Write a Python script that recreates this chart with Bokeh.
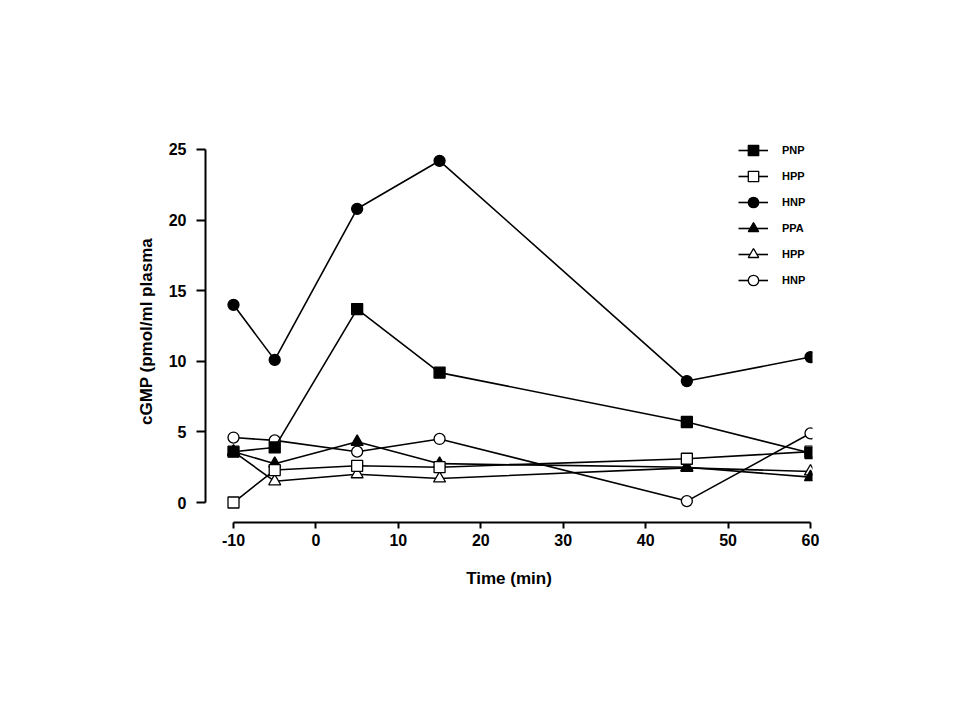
from bokeh.plotting import figure
from bokeh.models import Range1d, Legend, LegendItem, FixedTicker, PrintfTickFormatter
from bokeh.embed import file_html
from bokeh.resources import INLINE

# ---- data ----
times = [-10, -5, 5, 15, 45, 60]
pnp = [3.6, 3.9, 13.7, 9.2, 5.7, 3.5]          # filled square
hpp_sq = [0.0, 2.3, 2.6, 2.5, 3.1, 3.6]        # open square
hnp_fill = [14.0, 10.1, 20.8, 24.2, 8.6, 10.3] # filled circle
ppa = [3.6, 2.75, 4.3, 2.75, 2.5, 1.8]         # filled triangle
hpp_tri = [3.6, 1.5, 2.0, 1.7, 2.45, 2.2]      # open triangle
hnp_open = [4.6, 4.4, 3.6, 4.5, 0.1, 4.9]      # open circle

x_ticks = [-10, 0, 10, 20, 30, 40, 50, 60]
y_ticks = [0, 5, 10, 15, 20, 25]

FONT = "Liberation Sans"

p = figure(width=944, height=704, output_backend="svg", toolbar_location=None,
           x_range=Range1d(-13.397, 60.243), y_range=Range1d(-1.416, 25.637),
           min_border_left=205, min_border_right=132, min_border_top=140,
           min_border_bottom=182)
p.outline_line_color = None
p.xgrid.visible = False
p.ygrid.visible = False
p.background_fill_color = "white"
p.border_fill_color = "white"

for ax in (p.xaxis[0], p.yaxis[0]):
    ax.axis_line_width = 2
    ax.axis_line_color = "black"
    ax.major_tick_line_width = 2
    ax.major_tick_line_color = "black"
    ax.minor_tick_line_color = None
    ax.major_label_text_font = FONT
    ax.major_label_text_font_style = "bold"
    ax.major_label_text_font_size = "16px"
    ax.major_label_text_color = "black"
    ax.axis_label_text_font = FONT
    ax.axis_label_text_font_style = "bold"
    ax.axis_label_text_font_size = "17px"
    ax.axis_label_text_color = "black"
    ax.major_tick_in = 0
    ax.formatter = PrintfTickFormatter(format="%d")

p.xaxis[0].ticker = FixedTicker(ticks=x_ticks)
p.xaxis[0].bounds = (-10, 60)
p.xaxis[0].major_tick_out = 6
p.xaxis[0].major_label_standoff = 5
p.xaxis[0].axis_label = "Time (min)"
p.xaxis[0].axis_label_standoff = 20

p.yaxis[0].ticker = FixedTicker(ticks=y_ticks)
p.yaxis[0].bounds = (0, 25)
p.yaxis[0].major_tick_out = 9
p.yaxis[0].major_label_standoff = 10
p.yaxis[0].axis_label = "cGMP (pmol/ml plasma"
p.yaxis[0].axis_label_standoff = 10

series = [
    ("PNP", pnp, "square", "black"),
    ("HPP", hpp_sq, "square", "white"),
    ("HNP", hnp_fill, "circle", "black"),
    ("PPA", ppa, "triangle", "black"),
    ("HPP", hpp_tri, "triangle", "white"),
    ("HNP", hnp_open, "circle", "white"),
]
sizes = {"square": 11, "circle": 11, "triangle": 12}

# draw order: open circle, open triangle, filled triangle, open square, filled circle, filled square
draw_order = [5, 4, 3, 1, 2, 0]
renderers = {}
for i in draw_order:
    label, ys, marker, fill = series[i]
    lr = p.line(times, ys, line_color="black", line_width=1.6)
    sr = p.scatter(times, ys, marker=marker, size=sizes[marker], fill_color=fill,
                   line_color="black", line_width=1.3)
    renderers[i] = [lr, sr]

items = [LegendItem(label=series[i][0], renderers=renderers[i]) for i in range(len(series))]
legend = Legend(items=items, location=(533, 229), orientation="vertical",
                glyph_width=30, glyph_height=26, label_height=26, spacing=0,
                label_standoff=14, padding=0, margin=0,
                border_line_color=None, background_fill_alpha=0,
                label_text_font=FONT, label_text_font_style="bold",
                label_text_font_size="11px", label_text_color="black")
p.add_layout(legend, "center")

open("out.html", "w").write(file_html(p, INLINE))
